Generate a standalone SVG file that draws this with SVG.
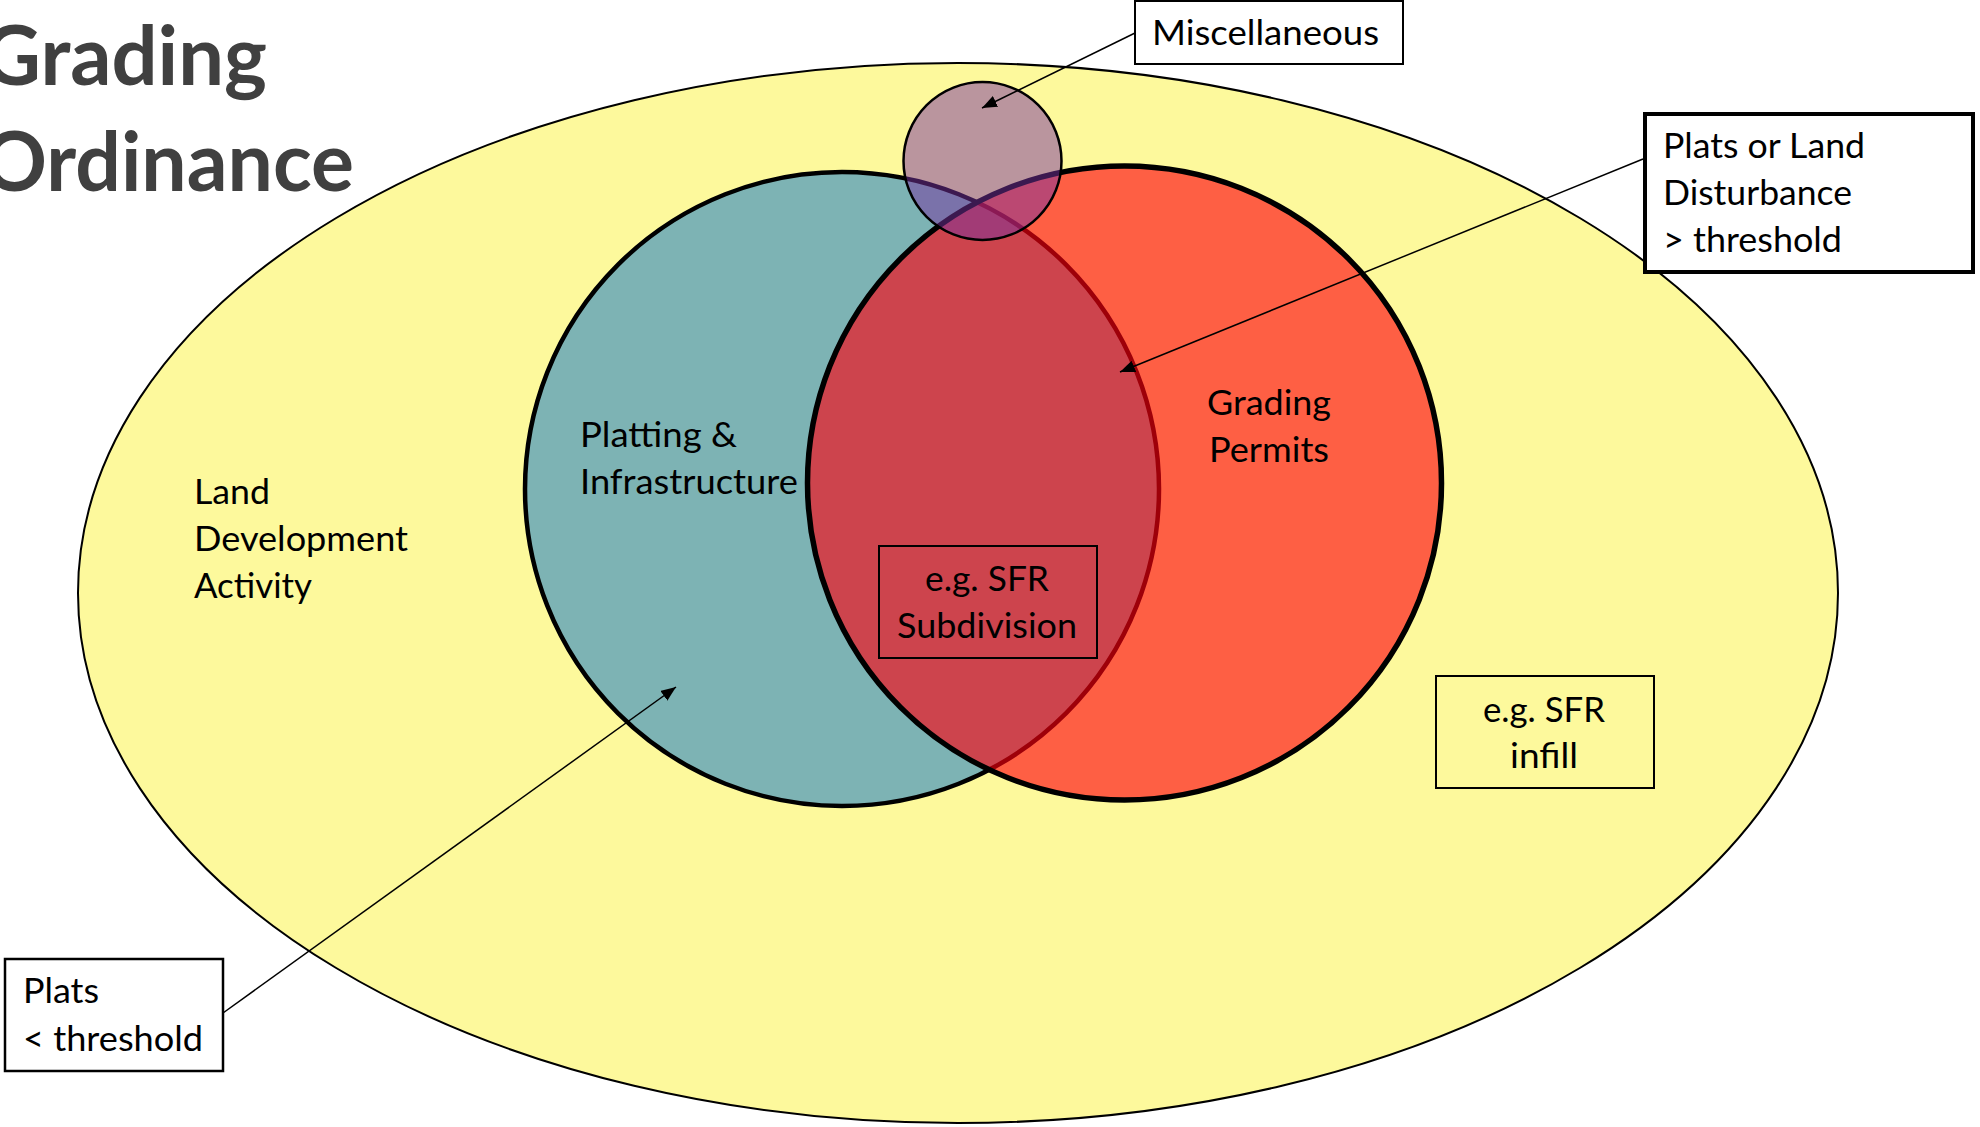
<svg xmlns="http://www.w3.org/2000/svg" width="1980" height="1127" viewBox="0 0 1980 1127">
  <defs>
    <style>
      .lbl { font-family: Lato, "Open Sans", "Liberation Sans", sans-serif; font-size: 35px; fill: #000; }
      .title { font-family: Lato, "Open Sans", "Liberation Sans", sans-serif; font-size: 82px; font-weight: 700; fill: #404040; }
      .box { fill: none; stroke: #000; stroke-width: 2; }
      .box-solid { fill: #fff; stroke: #000; stroke-width: 2; }
      .box-heavy { stroke-width: 4; }
      .box-mid { stroke-width: 2.5; }
      .conn { fill: none; stroke: #000; stroke-width: 1.5; }
    </style>
    <marker id="arrow" viewBox="0 0 15 12" refX="15" refY="6" markerWidth="15" markerHeight="12" markerUnits="userSpaceOnUse" orient="auto">
      <path d="M0,0 L15,6 L0,12 z" fill="#000"/>
    </marker>
  </defs>

  <rect width="1980" height="1127" fill="#fff"/>

  <!-- Title (runs off the left edge of the page) -->
  <g id="title">
    <text class="title" x="-18" y="85" textLength="285" lengthAdjust="spacingAndGlyphs">Grading</text>
    <text class="title" x="-18" y="191" textLength="372" lengthAdjust="spacingAndGlyphs">Ordinance</text>
  </g>

  <!-- Outer set: all land development activity -->
  <g id="land-development">
    <ellipse cx="958" cy="593" rx="880" ry="530" fill="#fdf99c" stroke="#000" stroke-width="2"/>
    <text class="lbl" x="194" y="504" textLength="76" lengthAdjust="spacingAndGlyphs">Land</text>
    <text class="lbl" x="194" y="551" textLength="214" lengthAdjust="spacingAndGlyphs">Development</text>
    <text class="lbl" x="194" y="598" textLength="118" lengthAdjust="spacingAndGlyphs">Activity</text>
  </g>

  <!-- Platting & Infrastructure set -->
  <g id="platting">
    <circle cx="842" cy="489" r="317" fill="#7db3b4" stroke="#000" stroke-width="4.5"/>
  </g>

  <!-- Grading Permits set (translucent so the overlap reads darker) -->
  <g id="grading-permits">
    <circle cx="1124.5" cy="483" r="317" fill="#ff000e" fill-opacity="0.62" stroke="#000" stroke-width="5.5"/>
  </g>

  <!-- Miscellaneous set -->
  <g id="miscellaneous">
    <circle cx="982.5" cy="161" r="79" fill="#7832a0" fill-opacity="0.5" stroke="#000" stroke-width="2.5"/>
  </g>

  <!-- Set labels -->
  <g id="platting-label">
    <text class="lbl" x="580" y="447" textLength="157" lengthAdjust="spacingAndGlyphs">Platting &amp;</text>
    <text class="lbl" x="580" y="494" textLength="218" lengthAdjust="spacingAndGlyphs">Infrastructure</text>
  </g>
  <g id="grading-label">
    <text class="lbl" x="1269" y="415" text-anchor="middle" textLength="124" lengthAdjust="spacingAndGlyphs">Grading</text>
    <text class="lbl" x="1269" y="462" text-anchor="middle" textLength="120" lengthAdjust="spacingAndGlyphs">Permits</text>
  </g>

  <!-- Example boxes -->
  <g id="sfr-subdivision">
    <rect class="box" x="879" y="546" width="218" height="112"/>
    <text class="lbl" x="987" y="591" text-anchor="middle" textLength="124" lengthAdjust="spacingAndGlyphs">e.g. SFR</text>
    <text class="lbl" x="987" y="638" text-anchor="middle" textLength="180" lengthAdjust="spacingAndGlyphs">Subdivision</text>
  </g>
  <g id="sfr-infill">
    <rect class="box" x="1436" y="676" width="218" height="112"/>
    <text class="lbl" x="1544" y="722" text-anchor="middle" textLength="122" lengthAdjust="spacingAndGlyphs">e.g. SFR</text>
    <text class="lbl" x="1544" y="768" text-anchor="middle" textLength="68" lengthAdjust="spacingAndGlyphs">infill</text>
  </g>

  <!-- Callout boxes -->
  <g id="misc-callout">
    <rect class="box-solid" x="1135" y="1" width="268" height="63"/>
    <text class="lbl" x="1152" y="45" textLength="227" lengthAdjust="spacingAndGlyphs">Miscellaneous</text>
  </g>
  <g id="plats-over-callout">
    <rect class="box-solid box-heavy" x="1645" y="114" width="328" height="158"/>
    <text class="lbl" x="1663" y="158" textLength="202" lengthAdjust="spacingAndGlyphs">Plats or Land</text>
    <text class="lbl" x="1663" y="205" textLength="189" lengthAdjust="spacingAndGlyphs">Disturbance</text>
    <text class="lbl" x="1663" y="252" textLength="179" lengthAdjust="spacingAndGlyphs">&gt; threshold</text>
  </g>
  <g id="plats-under-callout">
    <rect class="box-solid box-mid" x="5" y="959" width="218" height="112"/>
    <text class="lbl" x="23" y="1003" textLength="76" lengthAdjust="spacingAndGlyphs">Plats</text>
    <text class="lbl" x="23" y="1051" textLength="180" lengthAdjust="spacingAndGlyphs">&lt; threshold</text>
  </g>

  <!-- Connectors -->
  <g id="connectors">
    <line class="conn" x1="1135" y1="33" x2="982" y2="108" marker-end="url(#arrow)"/>
    <line class="conn" x1="1643" y1="159" x2="1120" y2="372" marker-end="url(#arrow)"/>
    <line class="conn" x1="223" y1="1013" x2="676" y2="687" marker-end="url(#arrow)"/>
  </g>
</svg>
